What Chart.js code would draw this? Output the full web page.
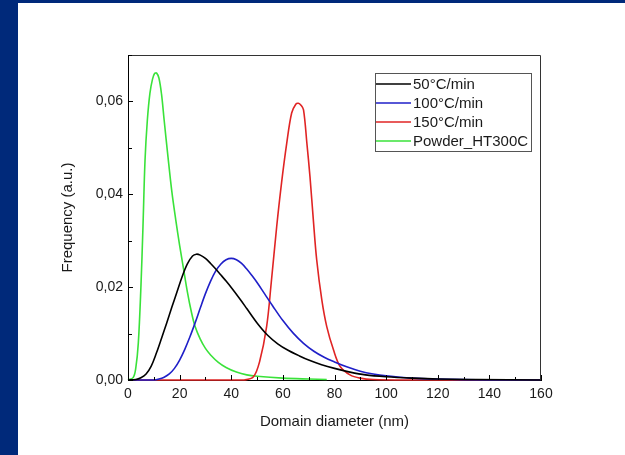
<!DOCTYPE html>
<html>
<head>
<meta charset="utf-8">
<script src="https://cdn.jsdelivr.net/npm/chart.js@4/dist/chart.umd.min.js"></script>
<style>
  html, body { margin: 0; padding: 0; background: #fff; }
  #wrap { position: relative; width: 625px; height: 455px; overflow: hidden; }
  #chart { position: absolute; left: 0; top: 0; }
  .bar { position: absolute; background: #00297a; }
</style>
</head>
<body>
<div id="wrap">
  <canvas id="chart" width="625" height="455"></canvas>
  <div class="bar" style="left:0;top:0;width:625px;height:3px"></div>
  <div class="bar" style="left:0;top:0;width:18px;height:455px"></div>
</div>
<script>
// values (x = domain diameter in nm, y = frequency)
const seriesLabels = ['50°C/min', '100°C/min', '150°C/min', 'Powder_HT300C']
const seriesColors = ['#000000', '#1f1fc8', '#e02424', '#3ae23a']

const x50 = [0, 3, 5, 7, 9, 11, 13, 15, 17, 19, 21, 23, 25, 26.5, 28, 30, 32, 34, 36, 38, 40, 43, 46, 50, 54, 58, 62, 66, 70, 75, 80, 86, 92, 100, 110, 120, 135, 160]
const y50 = [0, 0.0001, 0.0005, 0.0013, 0.0030, 0.0058, 0.0090, 0.0123, 0.0157, 0.0190, 0.0223, 0.0250, 0.0267, 0.0271, 0.0269, 0.0262, 0.0251, 0.0239, 0.0226, 0.0213, 0.0199, 0.0177, 0.0154, 0.0123, 0.0097, 0.0078, 0.0064, 0.0053, 0.0043, 0.0033, 0.0025, 0.0017, 0.0011, 0.0007, 0.0004, 0.0002, 0.0001, 0]

const x100 = [0, 10, 12, 14, 16, 18, 20, 22, 24, 26, 28, 30, 32, 34, 36, 38, 40, 42, 44, 46, 48, 50, 53, 56, 60, 64, 68, 72, 76, 80, 85, 90, 95, 100, 110, 120, 140, 160]
const y100 = [0, 0, 0.0002, 0.0006, 0.0013, 0.0025, 0.0043, 0.0066, 0.0093, 0.0123, 0.0155, 0.0186, 0.0213, 0.0235, 0.0250, 0.0259, 0.0262, 0.0259, 0.0251, 0.0239, 0.0225, 0.0210, 0.0185, 0.0160, 0.0128, 0.0101, 0.0079, 0.0062, 0.0049, 0.0039, 0.0028, 0.0019, 0.0013, 0.0009, 0.0004, 0.0002, 0, 0]

const x150 = [0, 20, 40, 45, 48.6, 51, 53.7, 55.5, 57.6, 59.5, 61.5, 63.4, 65, 66, 67, 68, 69.3, 70.5, 71.8, 73.1, 75.1, 77, 79.6, 82.2, 86, 89.9, 95, 110, 130, 160]
const y150 = [0, 0, 0, 0, 0.0007, 0.0040, 0.0115, 0.021, 0.033, 0.0425, 0.051, 0.0575, 0.0594, 0.0596, 0.0592, 0.0582, 0.051, 0.0438, 0.0345, 0.0259, 0.0172, 0.0115, 0.0065, 0.0029, 0.0011, 0.0004, 0.0001, 0, 0, 0]

const xPowder = [0, 2, 3, 4, 5, 5.8, 6.6, 7.5, 8.5, 9.5, 10.3, 11.1, 12, 13, 14, 15.5, 17, 18.5, 20, 21.5, 23, 24.5, 26, 28, 30, 32, 35, 38, 42, 46, 50, 60, 70, 77]
const yPowder = [0, 0.0005, 0.0025, 0.008, 0.020, 0.033, 0.0474, 0.056, 0.0618, 0.0648, 0.0660, 0.0661, 0.0650, 0.0615, 0.0560, 0.0480, 0.0405, 0.0345, 0.0290, 0.0240, 0.0190, 0.0148, 0.0115, 0.0088, 0.0068, 0.0054, 0.0038, 0.0027, 0.0017, 0.0011, 0.0008, 0.0004, 0.0002, 0.0001]

const xMin = 0, xMax = 160, xStep = 10
const yMin = 0, yMax = 0.07, yStep = 0.01

const seriesX = [x50, x100, x150, xPowder]
const seriesY = [y50, y100, y150, yPowder]

const fontFamily = '"Liberation Sans", Arial, sans-serif'
const textColor = '#1a1a1a'

const toPoints = (xs, ys) => xs.map((x, i) => ({ x, y: ys[i] }))

// inward ticks (long on labelled values) and the closed box
const frameAndTicks = {
  id: 'frameAndTicks',
  afterDatasetsDraw(chart) {
    const { ctx, chartArea: a, scales } = chart
    ctx.save()
    ctx.strokeStyle = '#333'
    ctx.lineWidth = 1
    ctx.beginPath()
    ctx.moveTo(a.left, a.top + 0.5)
    ctx.lineTo(a.right - 0.5, a.top + 0.5)
    ctx.lineTo(a.right - 0.5, a.bottom)
    ctx.stroke()

    ctx.strokeStyle = '#000'
    ctx.beginPath()
    scales.x.ticks.forEach(t => {
      const px = Math.round(scales.x.getPixelForValue(t.value)) + 0.5
      const len = Math.round(t.value) % 20 === 0 ? 5 : 3
      ctx.moveTo(px, a.bottom)
      ctx.lineTo(px, a.bottom - len)
    })
    scales.y.ticks.forEach(t => {
      const py = Math.round(scales.y.getPixelForValue(t.value)) + 0.5
      const len = Math.round(t.value * 100) % 2 === 0 ? 5 : 4
      ctx.moveTo(a.left, py)
      ctx.lineTo(a.left + len, py)
    })
    ctx.stroke()
    ctx.restore()
  }
}

// legend box inside the plot, top right
const boxLegend = {
  id: 'boxLegend',
  afterDraw(chart) {
    const { ctx, chartArea: a } = chart
    const left = a.right - 166, top = a.top + 18
    const w = 156, rowH = 19, h = rowH * chart.data.datasets.length + 2
    ctx.save()
    ctx.fillStyle = '#fff'
    ctx.fillRect(left, top, w, h)
    ctx.strokeStyle = '#555'
    ctx.lineWidth = 1
    ctx.strokeRect(left + 0.5, top + 0.5, w, h)
    ctx.font = '15px ' + fontFamily
    ctx.textBaseline = 'middle'
    chart.data.datasets.forEach((ds, i) => {
      const cy = top + 11 + i * rowH
      ctx.strokeStyle = ds.borderColor
      ctx.lineWidth = 1.6
      ctx.beginPath()
      ctx.moveTo(left + 1, cy)
      ctx.lineTo(left + 36, cy)
      ctx.stroke()
      ctx.fillStyle = textColor
      ctx.fillText(ds.label, left + 38, cy + 1)
    })
    ctx.restore()
  }
}

new Chart(document.getElementById('chart'), {
  type: 'line',
  data: {
    datasets: seriesLabels.map((label, i) => ({
      label,
      data: toPoints(seriesX[i], seriesY[i]),
      borderColor: seriesColors[i],
      backgroundColor: seriesColors[i],
      borderWidth: 1.6,
      pointRadius: 0,
      fill: false,
      tension: 0.35,
      clip: { left: 1, right: 1, top: 1, bottom: 2 },
    })),
  },
  options: {
    responsive: false,
    animation: false,
    layout: { padding: { top: 55, right: 84, left: 0, bottom: 0 } },
    plugins: {
      legend: { display: false },
      tooltip: { enabled: false },
    },
    scales: {
      x: {
        type: 'linear',
        min: xMin,
        max: xMax,
        grid: { display: false, drawTicks: false },
        border: { display: true, color: '#000', width: 1 },
        ticks: {
          stepSize: xStep,
          padding: 6,
          color: textColor,
          font: { family: fontFamily, size: 14 },
          maxRotation: 0,
          autoSkip: false,
          callback: v => (Math.round(v) % 20 === 0 ? String(v) : ''),
        },
        title: {
          display: true,
          text: 'Domain diameter (nm)',
          color: textColor,
          font: { family: fontFamily, size: 15 },
          padding: { top: 0, bottom: 24 },
        },
        afterFit: s => { s.height = 75 },
      },
      y: {
        type: 'linear',
        min: yMin,
        max: yMax,
        grid: { display: false, drawTicks: false },
        border: { display: true, color: '#000', width: 1 },
        ticks: {
          stepSize: yStep,
          padding: 5,
          color: textColor,
          font: { family: fontFamily, size: 14 },
          autoSkip: false,
          callback: v => (Math.round(v * 100) % 2 === 0 ? v.toFixed(2).replace('.', ',') : ''),
        },
        title: {
          display: true,
          text: 'Frequency (a.u.)',
          color: textColor,
          font: { family: fontFamily, size: 15 },
          padding: { top: 59, bottom: 0 },
        },
        afterFit: s => { s.width = 128 },
      },
    },
  },
  plugins: [frameAndTicks, boxLegend],
})
</script>
</body>
</html>
